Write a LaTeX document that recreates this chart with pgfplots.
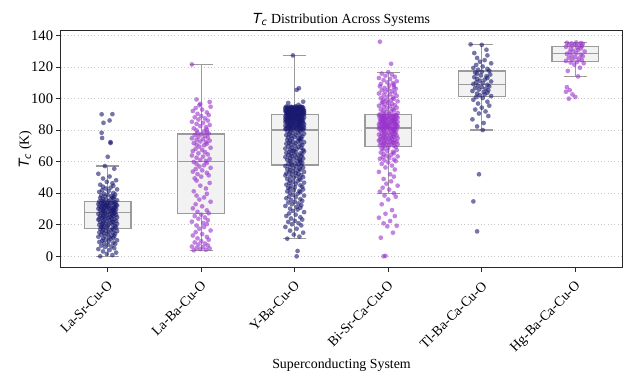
\documentclass[border=0pt]{standalone}
\usepackage{pgfplots}
\pgfplotsset{compat=1.18}
\usepackage{pgfplotstable}
\usepgfplotslibrary{statistics}
\usepackage{fontspec}
\setmainfont{Liberation Serif}
\newfontfamily\djv{DejaVu Sans}
\newcommand{\Tc}{{\djv\itshape T}\textsubscript{\djv\itshape c}}
\definecolor{navy}{RGB}{25,25,112}
\definecolor{orchid}{RGB}{153,50,204}
\definecolor{boxfill}{RGB}{242,242,242}
\definecolor{boxedge}{RGB}{155,155,155}
\definecolor{spine}{RGB}{40,40,40}

\pgfplotstableread[row sep=\\]{
dx y\\
-0.08 0.0\\ 0.05 0.8\\ -0.01 1.5\\ 0.09 2.4\\ -0.05 3.1\\ 0.02 4.0\\ -0.10 4.6\\ 0.07 5.2\\ -0.03 5.9\\ 0.04 6.3\\ -0.07 6.8\\ 0.00 7.4\\ 0.08 7.9\\ -0.04 8.3\\ 0.06 8.7\\ -0.09 9.1\\ 0.01 9.5\\ -0.06 9.9\\ 0.10 10.2\\ -0.02 10.6\\ 0.03 11.0\\ -0.05 11.3\\ 0.06 11.7\\
0.02 12.0\\ -0.10 12.4\\ 0.07 12.7\\ -0.03 13.0\\ 0.04 13.3\\ -0.07 13.7\\ 0.00 14.0\\ 0.08 14.3\\ -0.04 14.6\\ 0.06 14.9\\ -0.09 15.1\\ 0.01 15.4\\ -0.06 15.7\\ 0.10 16.0\\ -0.02 16.2\\ 0.03 16.5\\ -0.05 16.8\\ 0.06 17.0\\ -0.08 17.3\\ 0.05 17.6\\ -0.01 17.9\\ 0.09 18.1\\ -0.05 18.4\\
-0.07 18.7\\ 0.00 19.0\\ 0.08 19.2\\ -0.04 19.5\\ 0.06 19.7\\ -0.09 19.9\\ 0.01 20.1\\ -0.06 20.3\\ 0.10 20.6\\ -0.02 20.8\\ 0.03 21.0\\ -0.05 21.3\\ 0.06 21.5\\ -0.08 21.8\\ 0.05 22.0\\ -0.01 22.2\\ 0.09 22.5\\ -0.05 22.7\\ 0.02 23.0\\ -0.10 23.2\\ 0.07 23.4\\ -0.03 23.6\\ 0.04 23.9\\
-0.09 24.1\\ 0.01 24.3\\ -0.06 24.5\\ 0.10 24.7\\ -0.02 24.9\\ 0.03 25.1\\ -0.05 25.3\\ 0.06 25.5\\ -0.08 25.7\\ 0.05 25.9\\ -0.01 26.1\\ 0.09 26.3\\ -0.05 26.5\\ 0.02 26.7\\ -0.10 26.9\\ 0.07 27.1\\ -0.03 27.3\\ 0.04 27.5\\ -0.07 27.7\\ 0.00 27.9\\ 0.08 28.1\\ -0.04 28.3\\ 0.06 28.5\\
0.03 28.7\\ -0.05 28.9\\ 0.06 29.1\\ -0.08 29.3\\ 0.05 29.5\\ -0.01 29.7\\ 0.09 29.8\\ -0.05 29.9\\ 0.02 30.1\\ -0.10 30.2\\ 0.07 30.4\\ -0.03 30.5\\ 0.04 30.7\\ -0.07 30.9\\ 0.00 31.0\\ 0.08 31.2\\ -0.04 31.4\\ 0.06 31.5\\ -0.09 31.7\\ 0.01 31.9\\ -0.06 32.0\\ 0.10 32.2\\ -0.02 32.4\\
-0.01 32.5\\ 0.09 32.7\\ -0.05 32.9\\ 0.02 33.0\\ -0.10 33.2\\ 0.07 33.4\\ -0.03 33.5\\ 0.04 33.7\\ -0.07 33.9\\ 0.00 34.0\\ 0.08 34.2\\ -0.04 34.4\\ 0.06 34.5\\ -0.09 34.7\\ 0.01 34.9\\ -0.06 35.2\\ 0.10 35.5\\ -0.02 35.8\\ 0.03 36.1\\ -0.05 36.4\\ 0.06 36.7\\ -0.08 37.0\\ 0.05 37.3\\
0.07 37.6\\ -0.03 37.9\\ 0.04 38.2\\ -0.07 38.5\\ 0.00 38.8\\ 0.08 39.2\\ -0.04 39.6\\ 0.06 40.2\\ -0.09 40.8\\ 0.01 41.3\\ -0.06 41.9\\ 0.10 42.4\\ -0.02 43.0\\ 0.03 43.5\\ -0.05 44.1\\ 0.06 44.7\\ -0.08 45.4\\ 0.05 46.3\\ -0.01 47.2\\ 0.09 48.2\\ -0.05 49.3\\ 0.02 50.6\\ -0.10 52.3\\
0.07 55.5\\ -0.03 57.2\\ 0.00 63.1\\ 0.03 71.8\\ 0.03 72.4\\ -0.06 75.0\\ -0.065 78.3\\ -0.045 84.6\\ 0.02 86.1\\ -0.065 90.0\\ 0.05 90.1\\
}\tabLaSr

\pgfplotstableread[row sep=\\]{
dx y\\
-0.08 3.8\\ 0.05 4.2\\ -0.01 4.6\\ 0.09 5.0\\ -0.05 5.3\\ 0.02 5.8\\ -0.10 6.2\\ 0.07 6.9\\ -0.03 7.5\\ 0.04 8.1\\ -0.07 8.8\\ 0.00 9.6\\ 0.08 10.5\\ -0.04 11.4\\ 0.06 12.3\\ -0.09 13.2\\ 0.01 14.1\\ -0.06 15.3\\ 0.10 16.4\\ -0.02 17.5\\ 0.03 18.6\\ -0.05 19.5\\ 0.06 20.4\\
0.02 21.2\\ -0.10 22.0\\ 0.07 22.9\\ -0.03 23.8\\ 0.04 24.6\\ -0.07 25.5\\ 0.00 26.4\\ 0.08 27.3\\ -0.04 28.2\\ 0.06 29.1\\ -0.09 30.4\\ 0.01 31.7\\ -0.06 33.0\\ 0.10 34.6\\ -0.02 36.0\\ 0.03 37.3\\ -0.05 38.5\\ 0.06 39.6\\ -0.08 41.2\\ 0.05 43.0\\ -0.01 44.8\\ 0.09 46.5\\ -0.05 48.0\\
-0.07 49.4\\ 0.00 50.5\\ 0.08 51.3\\ -0.04 52.1\\ 0.06 52.9\\ -0.09 53.7\\ 0.01 54.5\\ -0.06 55.3\\ 0.10 56.1\\ -0.02 56.9\\ 0.03 57.7\\ -0.05 58.5\\ 0.06 59.2\\ -0.08 59.8\\ 0.05 60.4\\ -0.01 61.1\\ 0.09 61.8\\ -0.05 62.5\\ 0.02 63.2\\ -0.10 63.9\\ 0.07 64.6\\ -0.03 65.3\\ 0.04 66.0\\
-0.09 66.7\\ 0.01 67.4\\ -0.06 68.1\\ 0.10 68.8\\ -0.02 69.5\\ 0.03 70.3\\ -0.05 70.8\\ 0.06 71.3\\ -0.08 71.8\\ 0.05 72.3\\ -0.01 72.8\\ 0.09 73.3\\ -0.05 73.8\\ 0.02 74.3\\ -0.10 74.8\\ 0.07 75.3\\ -0.03 75.8\\ 0.04 76.3\\ -0.07 76.8\\ 0.00 77.3\\ 0.08 77.8\\ -0.04 78.3\\ 0.06 78.8\\
0.03 79.3\\ -0.05 79.8\\ 0.06 80.4\\ -0.08 81.1\\ 0.05 81.8\\ -0.01 82.5\\ 0.09 83.2\\ -0.05 83.9\\ 0.02 84.6\\ -0.10 85.3\\ 0.07 86.0\\ -0.03 86.7\\ 0.04 87.4\\ -0.07 88.1\\ 0.00 88.8\\ 0.08 89.5\\ -0.04 90.3\\ 0.06 91.2\\ -0.09 92.1\\ 0.01 93.0\\ -0.06 93.9\\ 0.10 94.8\\ -0.02 95.7\\
-0.01 96.6\\ 0.09 97.8\\ -0.05 99.4\\ -0.10 121.6\\
}\tabLaBa

\pgfplotstableread[row sep=\\]{
dx y\\
-0.08 11.2\\ 0.05 12.5\\ -0.01 13.8\\ 0.09 15.0\\ -0.05 16.3\\ 0.02 17.5\\ -0.10 18.6\\ 0.07 19.6\\ -0.03 20.3\\ 0.04 21.0\\ -0.07 21.8\\ 0.00 22.5\\ 0.08 23.3\\ -0.04 24.0\\ 0.06 24.8\\ -0.09 25.6\\ 0.01 26.4\\ -0.06 27.2\\ 0.10 28.0\\ -0.02 28.8\\ 0.03 29.6\\ -0.05 30.2\\ 0.06 30.8\\
0.02 31.3\\ -0.10 31.9\\ 0.07 32.4\\ -0.03 33.0\\ 0.04 33.5\\ -0.07 34.1\\ 0.00 34.6\\ 0.08 35.2\\ -0.04 35.7\\ 0.06 36.3\\ -0.09 36.8\\ 0.01 37.4\\ -0.06 37.9\\ 0.10 38.5\\ -0.02 39.0\\ 0.03 39.6\\ -0.05 40.2\\ 0.06 40.6\\ -0.08 41.1\\ 0.05 41.5\\ -0.01 41.9\\ 0.09 42.4\\ -0.05 42.8\\
-0.07 43.3\\ 0.00 43.7\\ 0.08 44.1\\ -0.04 44.6\\ 0.06 45.0\\ -0.09 45.4\\ 0.01 45.9\\ -0.06 46.3\\ 0.10 46.7\\ -0.02 47.2\\ 0.03 47.6\\ -0.05 48.0\\ 0.06 48.5\\ -0.08 48.9\\ 0.05 49.3\\ -0.01 49.8\\ 0.09 50.2\\ -0.05 50.5\\ 0.02 50.9\\ -0.10 51.2\\ 0.07 51.5\\ -0.03 51.9\\ 0.04 52.2\\
-0.09 52.5\\ 0.01 52.9\\ -0.06 53.2\\ 0.10 53.5\\ -0.02 53.9\\ 0.03 54.2\\ -0.05 54.5\\ 0.06 54.9\\ -0.08 55.2\\ 0.05 55.5\\ -0.01 55.9\\ 0.09 56.2\\ -0.05 56.5\\ 0.02 56.9\\ -0.10 57.2\\ 0.07 57.5\\ -0.03 57.9\\ 0.04 58.2\\ -0.07 58.5\\ 0.00 58.9\\ 0.08 59.2\\ -0.04 59.5\\ 0.06 59.9\\
0.03 60.2\\ -0.05 60.5\\ 0.06 60.8\\ -0.08 61.1\\ 0.05 61.4\\ -0.01 61.7\\ 0.09 62.0\\ -0.05 62.3\\ 0.02 62.6\\ -0.10 62.9\\ 0.07 63.2\\ -0.03 63.5\\ 0.04 63.8\\ -0.07 64.1\\ 0.00 64.4\\ 0.08 64.7\\ -0.04 65.0\\ 0.06 65.3\\ -0.09 65.6\\ 0.01 65.9\\ -0.06 66.2\\ 0.10 66.5\\ -0.02 66.8\\
-0.01 67.1\\ 0.09 67.4\\ -0.05 67.7\\ 0.02 68.0\\ -0.10 68.3\\ 0.07 68.6\\ -0.03 68.9\\ 0.04 69.3\\ -0.07 69.7\\ 0.00 70.2\\ 0.08 70.5\\ -0.04 70.8\\ 0.06 71.1\\ -0.09 71.4\\ 0.01 71.7\\ -0.06 72.0\\ 0.10 72.3\\ -0.02 72.6\\ 0.03 72.9\\ -0.05 73.2\\ 0.06 73.5\\ -0.08 73.8\\ 0.05 74.1\\
0.07 74.4\\ -0.03 74.7\\ 0.04 75.0\\ -0.07 75.3\\ 0.00 75.6\\ 0.08 75.9\\ -0.04 76.2\\ 0.06 76.5\\ -0.09 76.8\\ 0.01 77.1\\ -0.06 77.4\\ 0.10 77.7\\ -0.02 78.0\\ 0.03 78.3\\ -0.05 78.6\\ 0.06 78.9\\ -0.08 79.3\\ 0.05 79.7\\ -0.01 80.1\\ 0.09 80.2\\ -0.05 80.3\\ 0.02 80.4\\ -0.10 80.6\\
0.08 80.7\\ -0.04 80.8\\ 0.06 80.9\\ -0.09 81.1\\ 0.01 81.2\\ -0.06 81.3\\ 0.10 81.4\\ -0.02 81.6\\ 0.03 81.7\\ -0.05 81.8\\ 0.06 81.9\\ -0.08 82.1\\ 0.05 82.2\\ -0.01 82.3\\ 0.09 82.4\\ -0.05 82.6\\ 0.02 82.7\\ -0.10 82.8\\ 0.07 82.9\\ -0.03 83.1\\ 0.04 83.2\\ -0.07 83.3\\ 0.00 83.4\\
-0.06 83.6\\ 0.10 83.7\\ -0.02 83.8\\ 0.03 83.9\\ -0.05 84.1\\ 0.06 84.2\\ -0.08 84.3\\ 0.05 84.4\\ -0.01 84.6\\ 0.09 84.7\\ -0.05 84.8\\ 0.02 84.9\\ -0.10 85.1\\ 0.07 85.2\\ -0.03 85.3\\ 0.04 85.4\\ -0.07 85.5\\ 0.00 85.6\\ 0.08 85.7\\ -0.04 85.8\\ 0.06 85.9\\ -0.09 86.0\\ 0.01 86.1\\
0.06 86.2\\ -0.08 86.3\\ 0.05 86.4\\ -0.01 86.5\\ 0.09 86.6\\ -0.05 86.7\\ 0.02 86.8\\ -0.10 86.9\\ 0.07 87.0\\ -0.03 87.1\\ 0.04 87.2\\ -0.07 87.3\\ 0.00 87.4\\ 0.08 87.5\\ -0.04 87.6\\ 0.06 87.7\\ -0.09 87.8\\ 0.01 87.9\\ -0.06 88.0\\ 0.10 88.1\\ -0.02 88.2\\ 0.03 88.3\\ -0.05 88.4\\
-0.05 88.5\\ 0.02 88.6\\ -0.10 88.7\\ 0.07 88.8\\ -0.03 88.9\\ 0.04 89.0\\ -0.07 89.1\\ 0.00 89.2\\ 0.08 89.3\\ -0.04 89.4\\ 0.06 89.5\\ -0.09 89.6\\ 0.01 89.7\\ -0.06 89.8\\ 0.10 90.0\\ -0.02 90.05\\ 0.03 90.1\\ -0.05 90.2\\ 0.06 90.25\\ -0.08 90.3\\ 0.05 90.4\\ -0.01 90.45\\ 0.09 90.5\\
0.04 90.6\\ -0.07 90.65\\ 0.00 90.7\\ 0.08 90.8\\ -0.04 90.85\\ 0.06 90.9\\ -0.09 91.0\\ 0.01 91.05\\ -0.06 91.1\\ 0.10 91.2\\ -0.02 91.25\\ 0.03 91.3\\ -0.05 91.4\\ 0.06 91.45\\ -0.08 91.5\\ 0.05 91.6\\ -0.01 91.65\\ 0.09 91.7\\ -0.05 91.8\\ 0.02 91.85\\ -0.10 91.9\\ 0.07 92.0\\ -0.03 92.05\\
0.06 92.1\\ -0.09 92.2\\ 0.01 92.25\\ -0.06 92.3\\ 0.10 92.4\\ -0.02 92.45\\ 0.03 92.5\\ -0.05 92.6\\ 0.06 92.65\\ -0.08 92.7\\ 0.05 92.8\\ -0.01 92.85\\ 0.09 92.9\\ -0.05 93.0\\ 0.02 93.05\\ -0.10 93.1\\ 0.07 93.2\\ -0.03 93.25\\ 0.04 93.3\\ -0.07 93.4\\ 0.00 93.45\\ 0.08 93.5\\ -0.04 93.6\\
-0.02 93.65\\ 0.03 93.7\\ -0.05 93.8\\ 0.06 93.85\\ -0.08 93.9\\ 0.05 94.0\\ -0.01 94.05\\ 0.09 94.1\\ -0.05 94.2\\ 0.02 94.25\\ -0.10 94.3\\ 0.07 94.4\\ -0.03 94.45\\ 0.04 94.5\\ -0.07 94.6\\ 0.00 94.65\\ 0.08 94.7\\ -0.04 94.8\\ 0.06 94.85\\ -0.09 94.9\\ 0.01 95.0\\
0.02 0.0\\ 0.03 3.4\\ 0.04 96.0\\ -0.07 97.2\\ 0.09 98.0\\ 0.02 105.5\\ 0.045 106.5\\ -0.02 127.3\\
}\tabYBa

\pgfplotstableread[row sep=\\]{
dx y\\
-0.08 11.8\\ 0.05 15.0\\ -0.01 19.0\\ 0.09 19.4\\ -0.05 20.9\\ 0.02 22.4\\ -0.10 24.5\\ 0.07 25.5\\ -0.03 27.0\\ 0.04 29.3\\ -0.07 33.0\\ 0.00 36.0\\ 0.08 37.8\\ -0.04 38.5\\ 0.06 40.0\\ -0.09 41.0\\ 0.01 42.3\\ -0.06 43.5\\ 0.10 44.8\\ -0.02 46.0\\ 0.03 47.5\\ -0.05 49.0\\ 0.06 50.5\\
0.02 52.0\\ -0.10 53.5\\ 0.07 55.0\\ -0.03 56.3\\ 0.04 57.5\\ -0.07 58.6\\ 0.00 59.5\\ 0.08 60.3\\ -0.04 60.8\\ 0.06 61.3\\ -0.09 61.8\\ 0.01 62.3\\ -0.06 62.8\\ 0.10 63.3\\ -0.02 63.8\\ 0.03 64.3\\ -0.05 64.8\\ 0.06 65.3\\ -0.08 65.8\\ 0.05 66.3\\ -0.01 66.8\\ 0.09 67.3\\ -0.05 67.8\\
-0.07 68.3\\ 0.00 68.8\\ 0.08 69.3\\ -0.04 69.8\\ 0.06 70.1\\ -0.09 70.3\\ 0.01 70.5\\ -0.06 70.8\\ 0.10 71.0\\ -0.02 71.2\\ 0.03 71.4\\ -0.05 71.6\\ 0.06 71.8\\ -0.08 72.0\\ 0.05 72.3\\ -0.01 72.5\\ 0.09 72.7\\ -0.05 72.9\\ 0.02 73.1\\ -0.10 73.3\\ 0.07 73.5\\ -0.03 73.8\\ 0.04 74.0\\
-0.09 74.2\\ 0.01 74.4\\ -0.06 74.6\\ 0.10 74.8\\ -0.02 75.0\\ 0.03 75.3\\ -0.05 75.5\\ 0.06 75.7\\ -0.08 75.9\\ 0.05 76.1\\ -0.01 76.3\\ 0.09 76.5\\ -0.05 76.8\\ 0.02 77.0\\ -0.10 77.2\\ 0.07 77.4\\ -0.03 77.6\\ 0.04 77.8\\ -0.07 78.0\\ 0.00 78.3\\ 0.08 78.5\\ -0.04 78.7\\ 0.06 78.9\\
0.03 79.2\\ -0.05 79.5\\ 0.06 79.8\\ -0.08 80.0\\ 0.05 80.15\\ -0.01 80.3\\ 0.09 80.45\\ -0.05 80.6\\ 0.02 80.75\\ -0.10 80.9\\ 0.07 81.0\\ -0.03 81.15\\ 0.04 81.3\\ -0.07 81.45\\ 0.00 81.6\\ 0.08 81.75\\ -0.04 81.9\\ 0.06 82.0\\ -0.09 82.15\\ 0.01 82.3\\ -0.06 82.45\\ 0.10 82.6\\ -0.02 82.75\\
-0.01 82.9\\ 0.09 83.0\\ -0.05 83.15\\ 0.02 83.3\\ -0.10 83.45\\ 0.07 83.6\\ -0.03 83.75\\ 0.04 83.9\\ -0.07 84.0\\ 0.00 84.15\\ 0.08 84.3\\ -0.04 84.45\\ 0.06 84.6\\ -0.09 84.75\\ 0.01 84.9\\ -0.06 85.0\\ 0.10 85.15\\ -0.02 85.3\\ 0.03 85.45\\ -0.05 85.6\\ 0.06 85.75\\ -0.08 85.9\\ 0.05 86.0\\
0.07 86.15\\ -0.03 86.3\\ 0.04 86.45\\ -0.07 86.6\\ 0.00 86.75\\ 0.08 86.9\\ -0.04 87.0\\ 0.06 87.15\\ -0.09 87.3\\ 0.01 87.45\\ -0.06 87.6\\ 0.10 87.75\\ -0.02 87.9\\ 0.03 88.0\\ -0.05 88.15\\ 0.06 88.3\\ -0.08 88.45\\ 0.05 88.6\\ -0.01 88.75\\ 0.09 88.9\\ -0.05 89.0\\ 0.02 89.15\\ -0.10 89.3\\
0.08 89.45\\ -0.04 89.6\\ 0.06 89.75\\ -0.09 89.9\\ 0.01 90.2\\ -0.06 90.6\\ 0.10 91.0\\ -0.02 91.4\\ 0.03 91.8\\ -0.05 92.2\\ 0.06 92.6\\ -0.08 93.0\\ 0.05 93.4\\ -0.01 93.8\\ 0.09 94.2\\ -0.05 94.6\\ 0.02 95.0\\ -0.10 95.4\\ 0.07 95.8\\ -0.03 96.2\\ 0.04 96.6\\ -0.07 97.0\\ 0.00 97.4\\
-0.06 97.8\\ 0.10 98.2\\ -0.02 98.6\\ 0.03 99.0\\ -0.05 99.4\\ 0.06 99.8\\ -0.08 100.2\\ 0.05 100.7\\ -0.01 101.2\\ 0.09 101.7\\ -0.05 102.2\\ 0.02 102.7\\ -0.10 103.2\\ 0.07 103.7\\ -0.03 104.2\\ 0.04 104.7\\ -0.07 105.2\\ 0.00 105.7\\ 0.08 106.2\\ -0.04 106.7\\ 0.06 107.2\\ -0.09 107.7\\ 0.01 108.2\\
0.06 108.7\\ -0.08 109.2\\ 0.05 109.7\\ -0.01 110.2\\ 0.09 110.9\\ -0.05 111.6\\ 0.02 112.3\\ -0.10 113.0\\ 0.07 113.7\\ -0.03 114.4\\ 0.04 115.1\\ -0.07 115.8\\ 0.00 116.7\\
-0.05 0.0\\ -0.03 0.3\\ 0.03 122.0\\ -0.09 136.0\\
}\tabBiSr

\pgfplotstableread[row sep=\\]{
dx y\\
-0.05 15.8\\ -0.09 34.8\\ -0.03 52.0\\ 0.01 80.0\\ -0.05 82.3\\ 0.02 84.5\\ -0.10 86.8\\ 0.07 88.9\\ -0.03 90.5\\ 0.04 91.8\\ -0.07 93.0\\ 0.00 94.2\\ 0.08 95.5\\ -0.04 96.8\\ 0.06 98.0\\ -0.09 99.2\\ 0.01 100.3\\ -0.06 100.9\\ 0.10 101.5\\ -0.02 102.0\\ 0.03 102.6\\ -0.05 103.1\\ 0.06 103.7\\
0.02 104.2\\ -0.10 104.8\\ 0.07 105.2\\ -0.03 105.7\\ 0.04 106.2\\ -0.07 106.7\\ 0.00 107.2\\ 0.08 107.7\\ -0.04 108.2\\ 0.06 108.7\\ -0.09 109.2\\ 0.01 109.7\\ -0.06 110.2\\ 0.10 110.8\\ -0.02 111.3\\ 0.03 111.9\\ -0.05 112.4\\ 0.06 113.0\\ -0.08 113.5\\ 0.05 114.1\\ -0.01 114.6\\ 0.09 115.2\\ -0.05 115.8\\
-0.07 116.4\\ 0.00 117.0\\ 0.08 117.6\\ -0.04 118.2\\ 0.06 118.8\\ -0.09 119.4\\ 0.01 120.3\\ -0.06 121.3\\ 0.10 122.3\\ -0.02 123.3\\ 0.03 124.3\\ -0.05 125.7\\ 0.06 127.3\\ -0.08 128.8\\ 0.05 130.9\\ -0.12 134.3\\ 0.00 134.0\\
}\tabTl

\pgfplotstableread[row sep=\\]{
dx y\\
-0.09 107.2\\ -0.10 104.3\\ -0.06 105.3\\ -0.03 102.6\\ 0.00 101.0\\ -0.07 99.9\\ 0.03 114.0\\
-0.08 117.5\\ 0.05 119.5\\ -0.01 121.5\\ 0.09 122.3\\ -0.05 122.8\\ 0.02 123.3\\ -0.10 123.8\\ 0.07 124.3\\ -0.03 124.8\\ 0.04 125.3\\ -0.07 125.8\\ 0.00 126.3\\ 0.08 126.8\\ -0.04 127.3\\ 0.06 127.8\\ -0.09 128.3\\ 0.01 128.8\\ -0.06 129.3\\ 0.10 129.8\\ -0.02 130.3\\ 0.03 130.8\\ -0.05 131.3\\ 0.06 131.8\\
0.02 132.3\\ -0.10 132.8\\ 0.07 133.2\\ -0.03 133.5\\ 0.04 133.8\\ -0.07 134.0\\ 0.00 134.3\\ 0.08 134.6\\ -0.04 134.9\\ 0.06 135.1\\ -0.09 135.3\\ 0.01 135.5\\
}\tabHg

\pgfplotsset{
  navydots/.style={only marks, mark=*, mark size=1.7pt, color=navy, mark options={fill=navy, draw=navy, fill opacity=0.6, draw opacity=0}},
  orchiddots/.style={only marks, mark=*, mark size=1.7pt, color=orchid, mark options={fill=orchid, draw=orchid, fill opacity=0.6, draw opacity=0}},
  bx/.style={draw=boxedge, fill=boxfill, line width=0.9pt, solid},
}

\begin{document}
\begin{tikzpicture}
\begin{axis}[
  name=ax,
  scale only axis,
  width=404pt, height=170pt,
  xmin=-0.5, xmax=5.5, ymin=-6.8, ymax=142.8,
  boxplot/draw direction=y,
  xtick={0,1,2,3,4,5},
  xticklabels={La-Sr-Cu-O,La-Ba-Cu-O,Y-Ba-Cu-O,Bi-Sr-Ca-Cu-O,Tl-Ba-Ca-Cu-O,Hg-Ba-Ca-Cu-O},
  xticklabel style={rotate=45, anchor=north east, font=\fontsize{10}{12}\selectfont, inner sep=2pt, xshift=-2.5pt, yshift=-1.5pt},
  ytick={0,20,40,60,80,100,120,140},
  yticklabel style={font=\fontsize{10.5}{12}\selectfont, inner sep=2pt},
  /pgf/number format/assume math mode=true,
  ymajorgrids,
  grid style={dotted, black!22, line width=0.6pt},
  tick align=outside, tick pos=left,
  major tick length=3.5pt,
  every tick/.style={spine, line width=0.6pt},
  axis line style={spine, line width=0.7pt},
  xlabel={Superconducting System},
  ylabel={\Tc\ (K)},
  xlabel style={font=\fontsize{10}{12}\selectfont, yshift=3pt},
  ylabel style={font=\fontsize{10}{12}\selectfont, yshift=-6pt},
  title={\Tc\ Distribution Across Systems},
  title style={font=\fontsize{10}{12}\selectfont, yshift=-6pt},
]
\addplot[bx, boxplot prepared={draw position=0, lower whisker=0, lower quartile=17.5, median=27.7, upper quartile=34.6, upper whisker=57.2, box extend=0.5, whisker extend=0.25}] coordinates {};
\addplot[bx, boxplot prepared={draw position=1, lower whisker=3.8, lower quartile=27.0, median=60.0, upper quartile=77.5, upper whisker=121.6, box extend=0.5, whisker extend=0.25}] coordinates {};
\addplot[bx, boxplot prepared={draw position=2, lower whisker=11.2, lower quartile=57.8, median=80.0, upper quartile=89.7, upper whisker=127.3, box extend=0.5, whisker extend=0.25}] coordinates {};
\addplot[bx, boxplot prepared={draw position=3, lower whisker=40.0, lower quartile=69.5, median=81.3, upper quartile=89.7, upper whisker=116.7, box extend=0.5, whisker extend=0.25}] coordinates {};
\addplot[bx, boxplot prepared={draw position=4, lower whisker=80.0, lower quartile=101.2, median=109.0, upper quartile=117.4, upper whisker=134.3, box extend=0.5, whisker extend=0.25}] coordinates {};
\addplot[bx, boxplot prepared={draw position=5, lower whisker=114.0, lower quartile=123.3, median=128.4, upper quartile=133.0, upper whisker=135.5, box extend=0.5, whisker extend=0.25}] coordinates {};

\addplot[navydots] table[x expr=\thisrow{dx}+0, y=y] {\tabLaSr};
\addplot[orchiddots] table[x expr=\thisrow{dx}+1, y=y] {\tabLaBa};
\addplot[navydots] table[x expr=\thisrow{dx}+2, y=y] {\tabYBa};
\addplot[orchiddots] table[x expr=\thisrow{dx}+3, y=y] {\tabBiSr};
\addplot[navydots] table[x expr=\thisrow{dx}+4, y=y] {\tabTl};
\addplot[orchiddots] table[x expr=\thisrow{dx}+5, y=y] {\tabHg};
\end{axis}
\path ([shift={(-43.9pt,-82.1pt)}]ax.south west) rectangle ([shift={(8.6pt,22.3pt)}]ax.north east);
\end{tikzpicture}
\end{document}
